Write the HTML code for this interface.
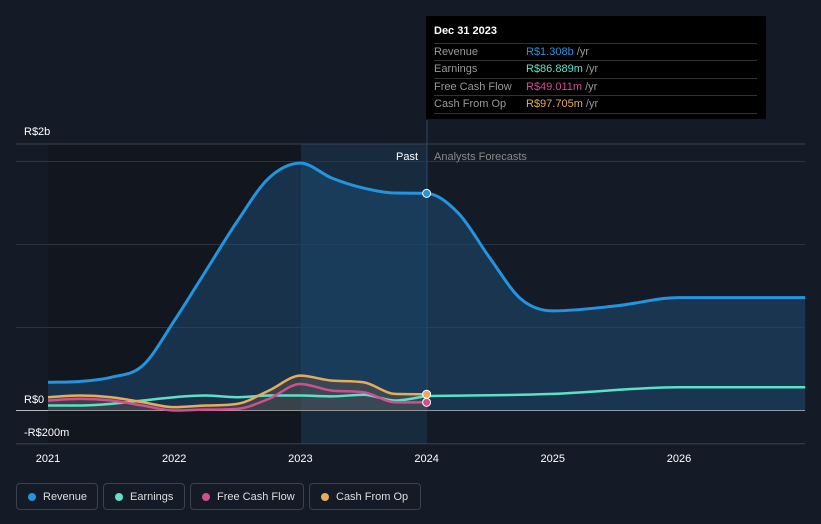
<!DOCTYPE html>
<html><head><meta charset="utf-8"><style>
body{margin:0;background:#151b26;font-family:"Liberation Sans",sans-serif;}
#wrap{position:relative;width:821px;height:524px;overflow:hidden;background:#151b26;}
.tt{position:absolute;left:426px;top:16px;width:340px;height:103px;background:#000;color:#fff;font-size:11px;}
.tt .h{position:absolute;left:8px;top:9px;font-weight:bold;font-size:11px}
.row{position:absolute;left:8px;width:323px;height:17px;border-top:1px solid #333;line-height:17px;color:#999}
.row span.v{position:absolute;left:92px}
.leg{position:absolute;top:483px;height:27px;border:1px solid #3a4150;border-radius:4px;color:#ddd;font-size:11px;line-height:27px;box-sizing:border-box;padding-left:26px}
.leg i{position:absolute;left:11px;top:9px;width:8px;height:8px;border-radius:50%}
</style></head><body><div id="wrap">
<svg id="svg" width="821" height="524"></svg>
<div class="tt">
<div class="h">Dec 31 2023</div>
<div class="row" style="top:27px">Revenue<span class="v"><b style="font-weight:normal;color:#2394df">R$1.308b</b> /yr</span></div>
<div class="row" style="top:44px">Earnings<span class="v"><b style="font-weight:normal;color:#5de0c8">R$86.889m</b> /yr</span></div>
<div class="row" style="top:62px">Free Cash Flow<span class="v"><b style="font-weight:normal;color:#d14f8e">R$49.011m</b> /yr</span></div>
<div class="row" style="top:79px;border-bottom:1px solid #333">Cash From Op<span class="v"><b style="font-weight:normal;color:#e8ab5a">R$97.705m</b> /yr</span></div>
</div>
<div class="leg" style="left:16px;width:82px"><i style="background:#2394df"></i>Revenue</div>
<div class="leg" style="left:103px;width:82px"><i style="background:#5de0c8"></i>Earnings</div>
<div class="leg" style="left:190px;width:114px"><i style="background:#d14f8e"></i>Free Cash Flow</div>
<div class="leg" style="left:309px;width:112px"><i style="background:#e8ab5a"></i>Cash From Op</div>
</div>
<script>
const revX=[2021,2021.25,2021.5,2021.75,2022,2022.25,2022.5,2022.75,2023,2023.25,2023.5,2023.75,2024,2024.25,2024.5,2024.75,2025,2025.5,2026,2027];
const revY=[0.17,0.175,0.2,0.27,0.54,0.84,1.14,1.40,1.49,1.40,1.34,1.31,1.308,1.19,0.92,0.67,0.6,0.63,0.68,0.68];
const pastX=[2021,2021.25,2021.5,2021.75,2022,2022.25,2022.5,2022.75,2023,2023.25,2023.5,2023.75,2024];
const earnY=[0.03,0.03,0.04,0.06,0.08,0.09,0.08,0.09,0.09,0.085,0.095,0.06,0.087];
const earnFX=[2024,2025,2026,2027];
const earnFY=[0.087,0.1,0.14,0.14];
const fcfY=[0.06,0.07,0.06,0.03,0.0,0.005,0.01,0.07,0.16,0.12,0.11,0.05,0.049];
const cfoY=[0.08,0.09,0.08,0.05,0.02,0.03,0.04,0.12,0.21,0.18,0.17,0.1,0.098];
const yTicks=[0,0.5,1,1.5];
const xTicks=[2021,2022,2023,2024,2025,2026];
const X=v=>48+(v-2021)*126.2, Y=v=>410.5-v*166;
const s=document.getElementById('svg'),NS='http://www.w3.org/2000/svg';
function el(t,a,nm){const e=document.createElementNS(NS,t);for(const k in a)e.setAttribute(k,a[k]);


s.appendChild(e);return e;}
function path(xs,ys){const p=xs.map((x,i)=>[X(x),Y(ys[i])]);const n=p.length;
const d=[],m=[];for(let i=0;i<n-1;i++)d.push((p[i+1][1]-p[i][1])/(p[i+1][0]-p[i][0]));
for(let i=0;i<n;i++){if(i==0)m.push(d[0]);else if(i==n-1)m.push(d[n-2]);else m.push(d[i-1]*d[i]<=0?0:(d[i-1]+d[i])/2);}
for(let i=0;i<n-1;i++){if(d[i]==0){m[i]=0;m[i+1]=0;continue;}const a=m[i]/d[i],b=m[i+1]/d[i],h=a*a+b*b;if(h>9){const t=3/Math.sqrt(h);m[i]=t*a*d[i];m[i+1]=t*b*d[i];}}
let s2='M'+p[0];for(let i=0;i<n-1;i++){const h=(p[i+1][0]-p[i][0])/3;
s2+=' C'+(p[i][0]+h)+','+(p[i][1]+m[i]*h)+' '+(p[i+1][0]-h)+','+(p[i+1][1]-m[i+1]*h)+' '+p[i+1];}return s2;}
el('rect',{x:48,y:144,width:253,height:300,fill:'#12161e'},'past-dark-region');
el('rect',{x:301,y:144,width:126,height:300,fill:'#182a3e'},'past-highlight-region');
el('rect',{x:427,y:144,width:378,height:300,fill:'#151b26'},'forecast-region');
el('line',{x1:16,x2:805,y1:144,y2:144,stroke:'#3a4150'},'top-gridline');
yTicks.forEach(t=>el('line',{x1:16,x2:805,y1:Y(t),y2:Y(t),stroke:t==0?'#bbb':'#2c3441'},'gridline'));
el('line',{x1:16,x2:805,y1:Y(-0.2),y2:Y(-0.2),stroke:'#3a4150'},'bottom-gridline');
el('line',{x1:427,x2:427,y1:120,y2:410,stroke:'#2a4a6a'},'today-line');
const rd=path(revX,revY);
el('path',{d:rd+' L'+X(2027)+','+Y(0)+' L'+X(2021)+','+Y(0)+'Z',fill:'#1d4a72',opacity:0.55},'revenue-area');
el('path',{d:path(pastX,cfoY)+' L'+X(2024)+','+Y(0)+' L'+X(2021)+','+Y(0)+'Z',fill:'#6b5a4a',opacity:0.4},'cfo-area');
el('path',{d:rd,fill:'none',stroke:'#2394df','stroke-width':3},'revenue-line');
el('path',{d:path(pastX,earnY),fill:'none',stroke:'#5de0c8','stroke-width':2.5},'earnings-line');
el('path',{d:path(earnFX,earnFY),fill:'none',stroke:'#5de0c8','stroke-width':2.5},'earnings-forecast-line');
el('path',{d:path(pastX,fcfY),fill:'none',stroke:'#d14f8e','stroke-width':2.5},'fcf-line');
el('path',{d:path(pastX,cfoY),fill:'none',stroke:'#e8ab5a','stroke-width':2.5},'cfo-line');
[[revY[12],'#2394df'],[cfoY[12],'#e8ab5a'],[fcfY[12],'#d14f8e']].forEach(a=>el('circle',{cx:X(2024),cy:Y(a[0]),r:4,fill:a[1],stroke:'#fff','stroke-width':1},'marker'));
function tx(x,y,t,c,a,nm){const e=el('text',{x:x,y:y,fill:c,'font-size':11,'text-anchor':a||'start','font-family':'Liberation Sans'},nm);e.textContent=t;}
tx(24,135,'R$2b','#fff','start','y-label-2b');tx(24,403,'R$0','#fff','start','y-label-0');tx(24,436,'-R$200m','#fff','start','y-label-neg200m');
tx(418,160,'Past','#fff','end','past-label');tx(434,160,'Analysts Forecasts','#888','start','forecast-label');
xTicks.forEach(t=>tx(X(t),462,String(t),'#fff','middle','x-tick-label'));
</script></body></html>
